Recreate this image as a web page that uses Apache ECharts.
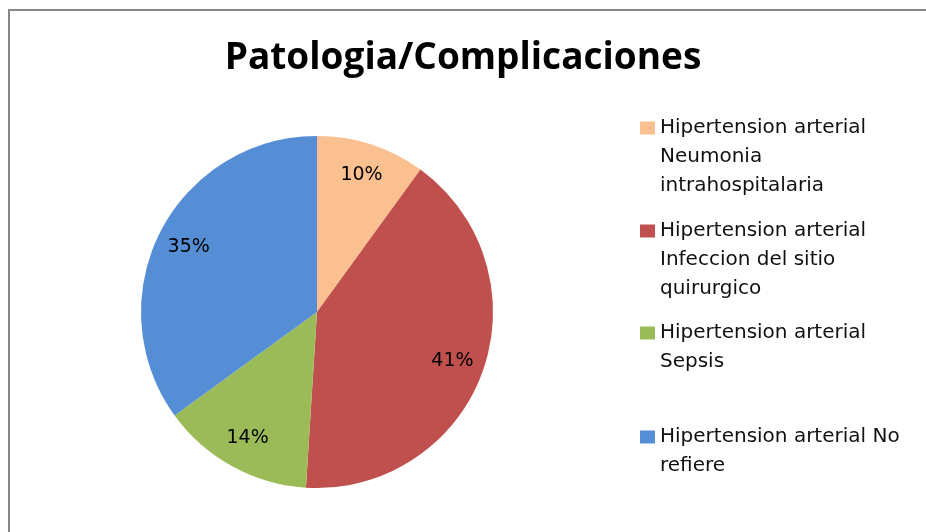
<!DOCTYPE html>
<html>
<head>
<meta charset="utf-8">
<script src="https://cdn.jsdelivr.net/npm/echarts@6/dist/echarts.min.js"></script>
<style>
	html, body { margin: 0; padding: 0; background: #fff; }
	#main { width: 926px; height: 532px; }
</style>
</head>
<body>
<div id="main"></div>
<script>
//datos del grafico
var chart_title = 'Patologia/Complicaciones';
var categories = [
	'Hipertension arterial\nNeumonia\nintrahospitalaria',
	'Hipertension arterial\nInfeccion del sitio\nquirurgico',
	'Hipertension arterial\nSepsis',
	'Hipertension arterial No\nrefiere'
];
var values = [10, 41, 14, 35];
var colors = ['#FAC090', '#C0504D', '#9BBB59', '#558ED5'];

var line_h = 29;
var legend_centers = [128, 231, 333, 437];

function buildData() {
	var d = [];
	for (var i = 0; i < categories.length; i++) {
		d.push({ name: categories[i], value: values[i], itemStyle: { color: colors[i] } });
	}
	return d;
}

//el cuadrito va alineado con la primera linea del texto
function buildLegends() {
	var list = [];
	for (var i = 0; i < categories.length; i++) {
		var n = categories[i].split('\n').length;
		var h = 13 + (n - 1) * line_h;
		list.push({
			data: [categories[i]],
			orient: 'vertical',
			left: 640,
			top: legend_centers[i] - line_h / 2,
			padding: 0,
			icon: 'path://M0 0L15 0L15 13L0 13Z M0 ' + h + 'L0.01 ' + h,
			itemWidth: 15,
			itemHeight: h,
			selectedMode: false,
			textStyle: {
				fontFamily: 'DejaVu Sans',
				fontSize: 20,
				color: '#111',
				lineHeight: line_h
			}
		});
	}
	return list;
}

var chart = echarts.init(document.getElementById('main'));
chart.setOption({
	animation: false,
	backgroundColor: '#fff',
	title: {
		text: chart_title,
		left: 'center',
		top: 35,
		textStyle: {
			fontFamily: 'Open Sans',
			fontWeight: 'bold',
			fontSize: 37,
			color: '#000'
		}
	},
	legend: buildLegends(),
	graphic: [
		{
			type: 'rect',
			shape: { x: 9, y: 10, width: 1000, height: 600 },
			style: { fill: 'none', stroke: '#868686', lineWidth: 2 },
			silent: true
		}
	],
	series: [
		{
			name: 'pie',
			type: 'pie',
			center: [317, 312],
			radius: 176,
			startAngle: 90,
			clockwise: true,
			itemStyle: { borderWidth: 0 },
			label: { show: false },
			labelLine: { show: false },
			emphasis: { disabled: true },
			data: buildData()
		},
		{
			//serie invisible solo para las etiquetas (a 0.8 del radio)
			name: 'labels',
			type: 'pie',
			center: [317, 312],
			radius: 282,
			startAngle: 90,
			clockwise: true,
			silent: true,
			z: 3,
			itemStyle: { color: 'rgba(0,0,0,0)', borderWidth: 0 },
			label: {
				show: true,
				position: 'inside',
				formatter: '{c}%',
				fontFamily: 'DejaVu Sans',
				fontSize: 19,
				color: '#000'
			},
			labelLine: { show: false },
			emphasis: { disabled: true },
			data: categories.map(function (c, i) { return { name: c, value: values[i] }; })
		}
	]
});
</script>
</body>
</html>
